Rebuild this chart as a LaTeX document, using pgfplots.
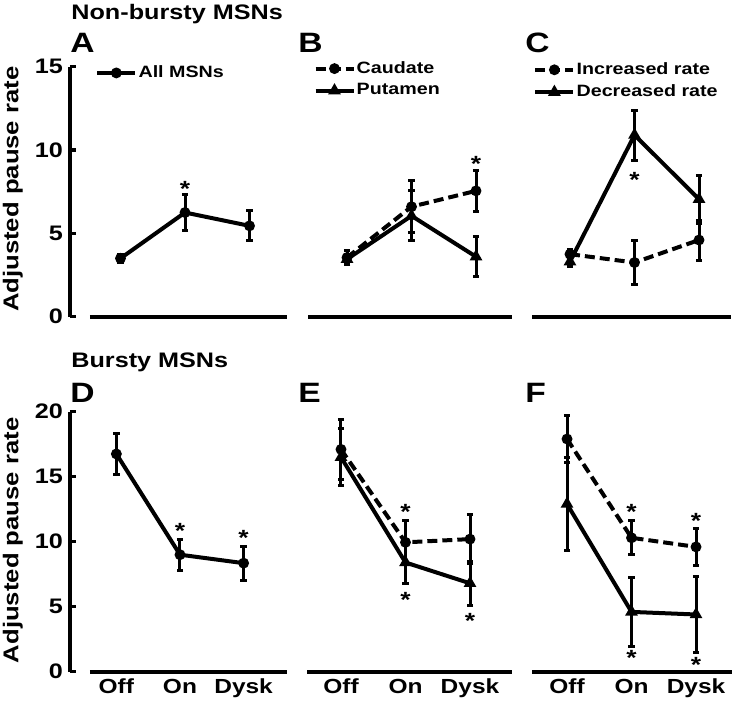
\documentclass[border=0pt]{standalone}
\usepackage{fontspec}
\setmainfont{Liberation Sans}[FakeStretch=1.2]
\usepackage{pgfplots}
\pgfplotsset{compat=1.18}

\pgfplotsset{
  panel/.style={
    scale only axis, anchor=south west, clip=false,
    axis line style={line width=2pt},
    tick align=inside, major tick length=3pt,
    tick style={line width=1.8pt, black},
    ymin=0,
    /pgf/number format/assume math mode=true,
    tick label style={font=\bfseries\fontsize{10.5}{12}\selectfont},
    ylabel style={font=\bfseries\fontsize{10.7}{12}\selectfont},
    legend style={draw=none, fill=none, inner sep=0pt, row sep=2.5pt,
      font=\bfseries\fontsize{8.2}{9}\selectfont, nodes={inner sep=0.6pt}},
    legend cell align=left,
    legend image code/.code={\draw[mark repeat=2,mark phase=2,##1] plot coordinates {(0pt,0pt) (9.5pt,0pt) (19pt,0pt)};},
  },
  firstcol/.style={axis y line*=left, axis x line*=bottom,
    x axis line style={shorten <=10pt},
    ylabel={Adjusted pause rate}},
  othercol/.style={axis y line=none, axis x line*=bottom},
  toprow/.style={height=125pt, ymax=15, ytick={0,5,10,15}, xtick=\empty,
    ylabel style={at={(axis description cs:-0.263,0.51)}, anchor=center}},
  botrow/.style={height=130pt, ymax=20, ytick={0,5,10,15,20},
    xtick={0,1,2}, xticklabels={Off,On,Dysk}, xtick style={draw=none},
    xticklabel style={font=\bfseries\fontsize{10.2}{12}\selectfont},
    ylabel style={at={(axis description cs:-0.263,0.505)}, anchor=center}},
  eb/.style={/pgfplots/error bars/y dir=both, /pgfplots/error bars/y explicit,
    /pgfplots/error bars/error bar style={line width=1.5pt, solid},
    /pgfplots/error bars/error mark options={rotate=90, line width=1.5pt, mark size=1.6pt, solid}},
  circ/.style={black, line width=2pt, mark=*, mark size=2.2pt,
    mark options={solid, fill=black, line width=1pt}, eb},
  tri/.style={black, line width=2pt, mark=triangle*, mark size=2.7pt,
    mark options={solid, fill=black, line width=1pt}, eb},
  dsh/.style={dash pattern=on 5pt off 2.5pt},
  star/.style={draw=none, mark=none, forget plot, nodes near coords={*},
    every node near coord/.style={anchor=center, inner sep=0pt, yshift=-2pt,
      black, font=\bfseries\fontsize{11}{12}\selectfont}},
}

\begin{document}
\begin{tikzpicture}
\path[use as bounding box] (0,0) rectangle (367pt,-352pt);

\node[anchor=base west, inner sep=0pt, font=\bfseries\fontsize{10.5}{12}\selectfont] at (35.5pt,-10pt) {Non-bursty MSNs};
\node[anchor=base west, inner sep=0pt, font=\bfseries\fontsize{14}{16}\selectfont] at (35pt,-26.5pt) {A};
\node[anchor=base west, inner sep=0pt, font=\bfseries\fontsize{14}{16}\selectfont] at (149pt,-26.5pt) {B};
\node[anchor=base west, inner sep=0pt, font=\bfseries\fontsize{14}{16}\selectfont] at (262.5pt,-26.5pt) {C};
\node[anchor=base west, inner sep=0pt, font=\bfseries\fontsize{10.5}{12}\selectfont] at (35.5pt,-184pt) {Bursty MSNs};
\node[anchor=base west, inner sep=0pt, font=\bfseries\fontsize{14}{16}\selectfont] at (35pt,-201.5pt) {D};
\node[anchor=base west, inner sep=0pt, font=\bfseries\fontsize{14}{16}\selectfont] at (149pt,-201.5pt) {E};
\node[anchor=base west, inner sep=0pt, font=\bfseries\fontsize{14}{16}\selectfont] at (262.5pt,-201.5pt) {F};

% A
\begin{axis}[panel, firstcol, toprow, at={(35pt,-158.35pt)}, width=108.5pt,
  xmin=-0.783, xmax=2.581,
  legend style={at={(axis description cs:0.115,0.975)}, anchor=west}]
\addplot[circ] coordinates {(0,3.5) +- (0,0.25) (1,6.25) +- (0,1.1) (2,5.45) +- (0,0.9)};
\addlegendentry{All MSNs}
\addplot[star] coordinates {(1,7.9)};
\end{axis}

% B
\begin{axis}[panel, othercol, toprow, at={(154pt,-158.35pt)}, width=102pt,
  xmin=-0.605, xmax=2.558,
  legend style={at={(axis description cs:0.025,0.949)}, anchor=west}]
\addplot[circ, dsh] coordinates {(0,3.55) +- (0,0.4) (1,6.6) +- (0,1.55) (2,7.55) +- (0,1.25)};
\addlegendentry{Caudate}
\addplot[tri] coordinates {(0,3.45) +- (0,0.3) (1,6.05) +- (0,1.5) (2,3.6) +- (0,1.2)};
\addlegendentry{Putamen}
\addplot[star] coordinates {(2,9.4)};
\end{axis}

% C
\begin{axis}[panel, othercol, toprow, at={(266pt,-158.35pt)}, width=99.5pt,
  xmin=-0.589, xmax=2.496,
  legend style={at={(axis description cs:0.005,0.943)}, anchor=west}]
\addplot[circ, dsh] coordinates {(0,3.75) +- (0,0.3) (1,3.25) +- (0,1.3) (2,4.6) +- (0,1.2)};
\addlegendentry{Increased rate}
\addplot[tri] coordinates {(0,3.3) +- (0,0.3) (1,10.9) +- (0,1.5) (2,7.05) +- (0,1.45)};
\addlegendentry{Decreased rate}
\addplot[star] coordinates {(1,8.45)};
\end{axis}

% D
\begin{axis}[panel, firstcol, botrow, at={(35pt,-335.85pt)}, width=108.5pt,
  xmin=-0.729, xmax=2.682]
\addplot[circ] coordinates {(0,16.75) +- (0,1.6) (1,9.0) +- (0,1.2) (2,8.35) +- (0,1.3)};
\addplot[star] coordinates {(1,11.15) (2,10.6)};
\end{axis}

% E
\begin{axis}[panel, othercol, botrow, at={(153.5pt,-335.85pt)}, width=102.5pt,
  xmin=-0.527, xmax=2.651]
\addplot[circ, dsh] coordinates {(0,17.1) +- (0,2.3) (1,9.95) +- (0,1.7) (2,10.2) +- (0,1.9)};
\addplot[tri] coordinates {(0,16.5) +- (0,2.2) (1,8.4) +- (0,1.6) (2,6.8) +- (0,1.7)};
\addplot[star] coordinates {(1,12.6) (1,5.8) (2,4.2)};
\end{axis}

% F
\begin{axis}[panel, othercol, botrow, at={(266pt,-335.85pt)}, width=100pt,
  xmin=-0.543, xmax=2.558]
\addplot[circ, dsh] coordinates {(0,17.9) +- (0,1.8) (1,10.3) +- (0,1.3) (2,9.6) +- (0,1.45)};
\addplot[tri] coordinates {(0,12.9) +- (0,3.6) (1,4.6) +- (0,2.65) (2,4.4) +- (0,2.95)};
\addplot[star] coordinates {(1,12.6) (2,11.9) (1,1.4) (2,0.8)};
\end{axis}
\end{tikzpicture}
\end{document}
